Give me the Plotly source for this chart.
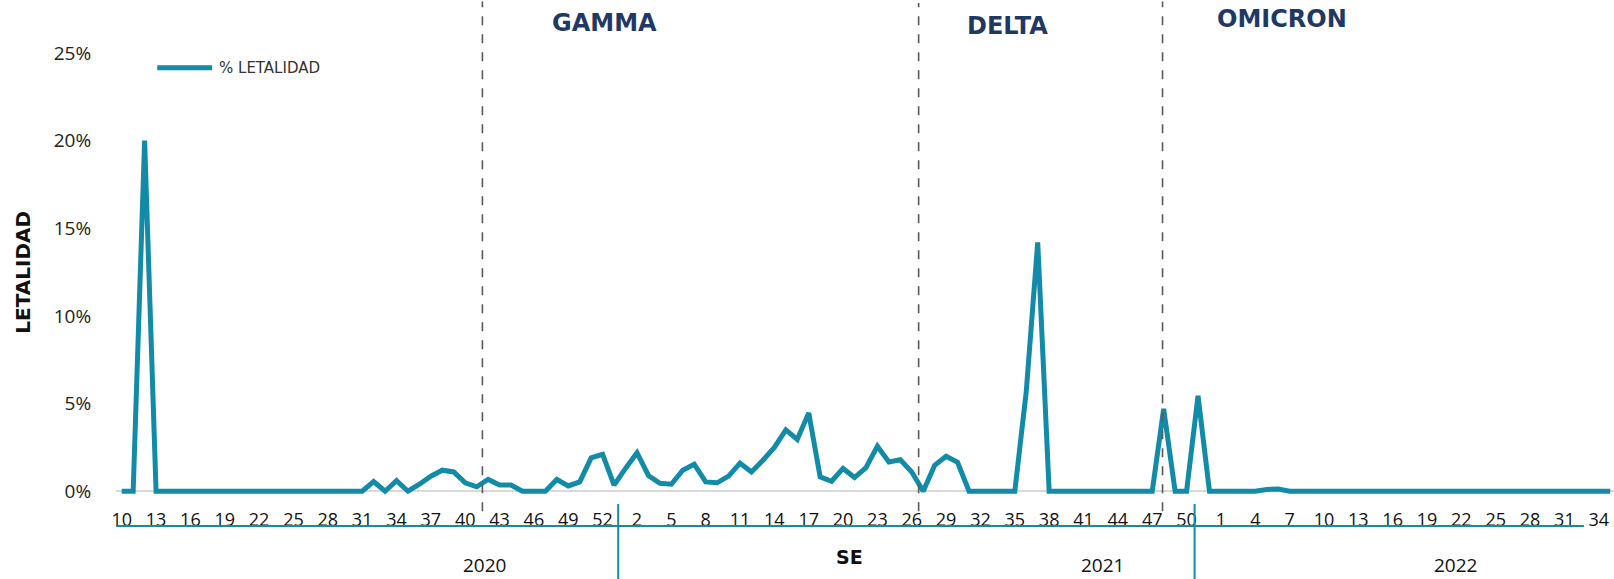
import plotly.graph_objects as go

# ---------------- data ----------------
weeks_2020 = list(range(10, 54))   # SE 10-53
weeks_2021 = list(range(1, 53))    # SE 1-52
weeks_2022 = list(range(1, 36))    # SE 1-35

letalidad_2020 = [0, 0, 20.0, 0,
                  0, 0, 0, 0, 0, 0, 0, 0, 0, 0, 0, 0, 0, 0, 0, 0, 0, 0,
                  0.55, 0, 0.6, 0, 0.4, 0.86, 1.2, 1.1, 0.48, 0.25, 0.67, 0.35,
                  0.35, 0, 0, 0, 0.67, 0.3, 0.53, 1.9, 2.1, 0.35]
letalidad_2021 = [1.3, 2.2, 0.9, 0.45, 0.4, 1.2, 1.54, 0.53, 0.48, 0.86,
                  1.6, 1.1, 1.77, 2.5, 3.5, 2.95, 4.47, 0.82, 0.57, 1.3,
                  0.78, 1.35, 2.57, 1.67, 1.8, 1.1, 0, 1.48, 2.0, 1.65,
                  0, 0, 0, 0, 0, 5.7, 14.2, 0, 0, 0,
                  0, 0, 0, 0, 0, 0, 0, 4.7, 0, 0,
                  5.45, 0]
letalidad_2022 = [0, 0, 0, 0, 0.1, 0.13, 0, 0, 0, 0,
                  0, 0, 0, 0, 0, 0, 0, 0, 0, 0,
                  0, 0, 0, 0, 0, 0.07, 0, 0, 0, 0,
                  0, 0, 0, 0, 0]

years = ["2020", "2021", "2022"]
variants = ["GAMMA", "DELTA", "OMICRON"]
series_name = "% LETALIDAD"

# ---------------- build ----------------
weeks = weeks_2020 + weeks_2021 + weeks_2022
values = [v / 100 for v in letalidad_2020 + letalidad_2021 + letalidad_2022]
idx = list(range(len(weeks)))
tickvals = idx[::3]
ticktext = [str(weeks[i]) for i in tickvals]

TEAL = "#118BA7"
NAVY = "#1F3864"
FONT = "Open Sans, Lato, sans-serif"
BOLD = "DejaVu Sans, Open Sans, sans-serif"

fig = go.Figure()
fig.add_trace(go.Scatter(
    x=idx, y=values, mode="lines", name=series_name,
    line=dict(color=TEAL, width=5), showlegend=False,
    hovertemplate="SE %{text}: %{y:.1%}<extra></extra>",
    text=[str(w) for w in weeks],
))

shapes = []
# variant dashed separators
for xv, ytop in zip([31.5, 69.6, 90.9], [1.115, 1.112, 1.115]):
    shapes.append(dict(type="line", xref="x", yref="paper", x0=xv, x1=xv,
                       y0=-0.025, y1=ytop,
                       line=dict(color="#595959", width=1.6, dash="dash")))
# multi-level axis lines (teal)
shapes.append(dict(type="line", xref="x", yref="paper", x0=-0.74, x1=127.7,
                   y0=-0.058, y1=-0.058, line=dict(color=TEAL, width=2)))
for xv in [43.36, 93.7]:
    shapes.append(dict(type="line", xref="x", yref="paper", x0=xv, x1=xv,
                       y0=-0.009, y1=-0.18, line=dict(color=TEAL, width=2)))
# legend sample line
shapes.append(dict(type="line", xref="x", yref="paper", x0=3.1, x1=7.9,
                   y0=0.967, y1=0.967, line=dict(color=TEAL, width=5)))

annotations = []
for name, xv, yv in zip(variants, [42.2, 77.4, 101.3], [1.068, 1.061, 1.077]):
    annotations.append(dict(text=f"<b>{name}</b>", x=xv, y=yv, xref="x", yref="paper",
                            showarrow=False, font=dict(family=BOLD, size=24, color=NAVY),
                            xanchor="center", yanchor="middle"))
for name, xv in zip(years, [31.7, 85.7, 116.5]):
    annotations.append(dict(text=name, x=xv, y=-0.145, xref="x", yref="paper",
                            showarrow=False, font=dict(family=FONT, size=19, color="#111111"),
                            xanchor="center", yanchor="middle"))
annotations.append(dict(text="<b>SE</b>", x=63.6, y=-0.1275, xref="x", yref="paper",
                        showarrow=False, font=dict(family=BOLD, size=19, color="#111111"),
                        xanchor="center", yanchor="middle"))
annotations.append(dict(text="<b>LETALIDAD</b>", x=-0.0623, y=0.51, xref="paper", yref="paper",
                        showarrow=False, textangle=-90,
                        font=dict(family=BOLD, size=20, color="#111111"),
                        xanchor="center", yanchor="middle"))
annotations.append(dict(text=series_name, x=8.3, y=0.967, xref="x", yref="paper",
                        showarrow=False, font=dict(family="DejaVu Sans, sans-serif", size=15,
                                                   color="#333333"),
                        xanchor="left", yanchor="middle"))

fig.update_layout(
    width=1614, height=579,
    margin=dict(l=116, r=0, t=53, b=79),
    paper_bgcolor="white", plot_bgcolor="white",
    font=dict(family=FONT, color="#222222"),
    shapes=shapes, annotations=annotations,
    xaxis=dict(range=[-0.5, 130.33], tickvals=tickvals, ticktext=ticktext,
               ticks="outside", ticklen=3, tickcolor="rgba(0,0,0,0)",
               tickfont=dict(family=FONT, size=18, color="#111111"),
               showgrid=False, zeroline=False, showline=False),
    yaxis=dict(range=[-0.005, 0.25], tickvals=[0, 0.05, 0.10, 0.15, 0.20, 0.25],
               tickformat=".0%", ticks="outside", ticklen=20, tickcolor="rgba(0,0,0,0)",
               tickfont=dict(family=FONT, size=19, color="#222222"),
               showgrid=False, zeroline=True, zerolinecolor="#D9D9D9", zerolinewidth=2,
               showline=False),
)

fig.write_html("out.html", config={"displayModeBar": False},
               post_script="document.body.style.margin='0px';document.body.style.overflow='hidden';")
